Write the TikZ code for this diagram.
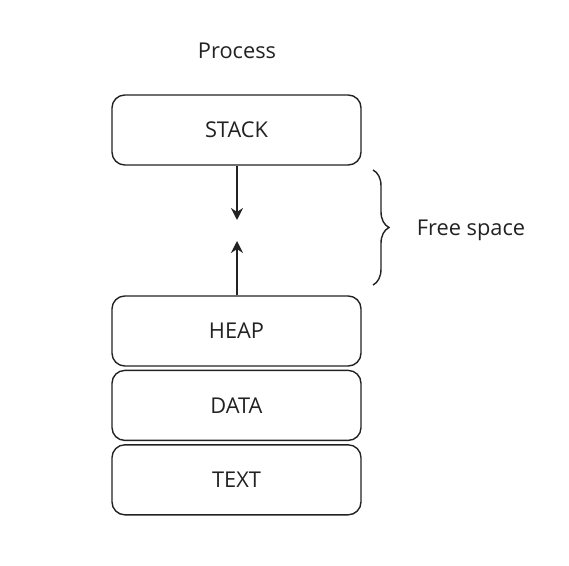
\documentclass[tikz,border=0pt]{standalone}
\usepackage{fontspec}
\setmainfont{Open Sans}
\usetikzlibrary{positioning,arrows.meta,decorations.pathreplacing}
\definecolor{inkgray}{HTML}{222222}
\tikzset{
    segment/.style = {draw = inkgray, line width = 1pt, rounded corners = 0.32cm,
        minimum width = 6.225cm, minimum height = 1.75cm, inner sep = 0pt},
    growth/.style = {draw = inkgray, line width = 1pt, -{Stealth[length = 0.3cm, width = 0.3cm]}},
}
\begin{document}
\begin{tikzpicture}[font = \fontsize{15.5}{18}\selectfont, text = inkgray]
    \useasboundingbox (0,0) rectangle (14.225,-14.15);
    \node (title) at (5.925,-1.28) {Process};
    \node[segment] (stack) at (5.9125,-3.25) {STACK};
    \node[segment] (heap) at (5.9125,-8.275) {HEAP};
    \node[segment, below = 0.075cm of heap] (data) {DATA};
    \node[segment, below = 0.075cm of data] (text) {TEXT};
    \coordinate (down) at (5.925,-5.5);
    \coordinate (up) at (5.925,-6.025);
    \draw[growth] (stack.south -| down) -- (down);
    \draw[growth] (heap.north -| up) -- (up);
    \coordinate (bracetop) at (9.325,-4.25);
    \coordinate (bracebot) at (9.325,-7.125);
    \draw[inkgray, line width = 1pt, decorate, decoration = {brace, amplitude = 0.4cm}]
        (bracetop) -- (bracebot);
    \node (free) at (11.775,-5.77) {Free space};
\end{tikzpicture}
\end{document}
